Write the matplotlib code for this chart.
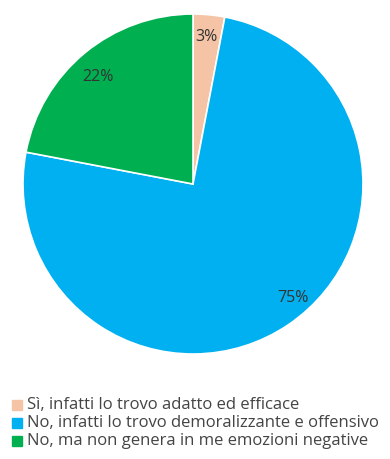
import matplotlib.pyplot as plt
import matplotlib.patches as mpatches
import numpy as np

categorie = [
    "Sì, infatti lo trovo adatto ed efficace",
    "No, infatti lo trovo demoralizzante e offensivo",
    "No, ma non genera in me emozioni negative",
]
valori = [3, 75, 22]
colori = ["#F5C4A6", "#00B0F0", "#00B050"]

plt.rcParams["font.family"] = ["Open Sans", "DejaVu Sans"]

fig = plt.figure(figsize=(3.9, 4.59), dpi=100)
ax = fig.add_axes([23 / 390, 105 / 459, 340 / 390, 340 / 459])

wedges, testi, pct = ax.pie(
    valori, colors=colori, startangle=90, counterclock=False,
    autopct="%1.0f%%", pctdistance=0.87,
    wedgeprops=dict(edgecolor="white", linewidth=1.2),
    textprops=dict(fontsize=11.5, color="#333333"),
)
ax.set_aspect("equal")
ax.set_xlim(-1, 1)
ax.set_ylim(-1, 1)

# sposta le etichette come nel layout originale
ang = np.deg2rad(-48.7)
pct[1].set_position((0.89 * np.cos(ang), 0.89 * np.sin(ang)))
pct[2].set_position((0.84 * np.cos(np.deg2rad(131.6)), 0.84 * np.sin(np.deg2rad(131.6))))

# legenda sotto il grafico
y0 = 405
for i, (lab, col) in enumerate(zip(categorie, colori)):
    y = y0 + i * 18
    fig.patches.append(mpatches.Rectangle((12 / 390, 1 - (y + 5) / 459), 10 / 390, 10 / 459,
                                          transform=fig.transFigure, color=col))
    fig.text(27 / 390, 1 - y / 459, lab, fontsize=12, color="#444444",
             va="center", ha="left")

fig.savefig("out.png", dpi=100)
